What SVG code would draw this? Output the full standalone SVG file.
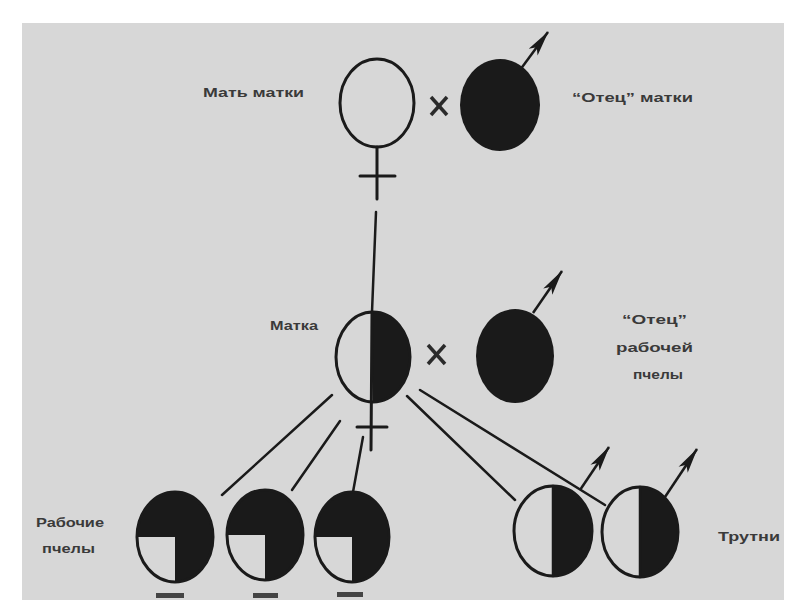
<svg xmlns="http://www.w3.org/2000/svg" width="800" height="600" viewBox="0 0 800 600">
<defs>
<style>
.lbl{font-family:"Liberation Sans",Arial,sans-serif;font-weight:bold;font-size:13px;fill:#3a3a3a}
.ol{fill:none;stroke:#1a1a1a;stroke-width:3}
.blk{fill:#1a1a1a}
.ln{stroke:#1a1a1a;stroke-width:2.5;fill:none;stroke-linecap:round}
.x{stroke:#2a2a2a;stroke-width:3.5;fill:none}
.arr{stroke:#1a1a1a;stroke-width:2.5;fill:none;marker-end:url(#head)}
</style>
<marker id="head" viewBox="-26 -6 28 12" markerWidth="28" markerHeight="12" refX="0" refY="0" orient="auto" markerUnits="userSpaceOnUse">
<path d="M1,0 L-25,-5.5 L-19,0 L-25,5.5 Z" fill="#1a1a1a"/>
</marker>
</defs>
<rect x="0" y="0" width="800" height="600" fill="#ffffff"/>
<rect x="22" y="23" width="762" height="577" fill="#d7d7d7"/>

<g id="connectors">
<line class="ln" x1="376" y1="212" x2="372" y2="312"/>
<line class="ln" x1="332" y1="395" x2="222" y2="495"/>
<line class="ln" x1="340" y1="421" x2="292" y2="490"/>
<line class="ln" x1="363" y1="437" x2="353" y2="492"/>
<line class="ln" x1="407" y1="396" x2="515" y2="500"/>
<line class="ln" x1="420" y1="390" x2="605" y2="505"/>
</g>

<g id="mother-of-queen">
<ellipse class="ol" cx="377" cy="103" rx="37" ry="44"/>
<line class="ln" x1="377" y1="147" x2="377" y2="199" style="stroke-width:3"/>
<line class="ln" x1="360" y1="176" x2="395" y2="176" style="stroke-width:3"/>
<text class="lbl" x="203" y="97" textLength="101" lengthAdjust="spacingAndGlyphs">Мать матки</text>
</g>

<g id="cross1">
<line class="x" x1="431" y1="97" x2="447" y2="115"/>
<line class="x" x1="447" y1="97" x2="431" y2="115"/>
</g>

<g id="father-of-queen">
<ellipse class="blk" cx="500" cy="105" rx="40" ry="46"/>
<line class="arr" x1="520" y1="70" x2="548" y2="32"/>
<text class="lbl" x="572" y="102" textLength="121" lengthAdjust="spacingAndGlyphs">“Отец” матки</text>
</g>

<g id="queen">
<path class="blk" d="M373,312 A37,45 0 0 1 373,402 Z"/>
<ellipse class="ol" cx="373" cy="357" rx="37" ry="45"/>
<line class="ln" x1="372" y1="312" x2="371" y2="450" style="stroke-width:3"/>
<line class="ln" x1="357" y1="427" x2="387" y2="427" style="stroke-width:3"/>
<text class="lbl" x="270" y="330" textLength="48" lengthAdjust="spacingAndGlyphs">Матка</text>
</g>

<g id="cross2">
<line class="x" x1="428" y1="345" x2="445" y2="364"/>
<line class="x" x1="445" y1="345" x2="428" y2="364"/>
</g>

<g id="father-of-worker">
<ellipse class="blk" cx="515" cy="356" rx="39" ry="47"/>
<line class="arr" x1="533" y1="313" x2="562" y2="271"/>
<text class="lbl" x="622" y="324" textLength="65" lengthAdjust="spacingAndGlyphs">“Отец”</text>
<text class="lbl" x="616" y="352" textLength="77" lengthAdjust="spacingAndGlyphs">рабочей</text>
<text class="lbl" x="633" y="379" textLength="50" lengthAdjust="spacingAndGlyphs">пчелы</text>
</g>

<g id="worker1">
<ellipse class="blk" cx="175" cy="537" rx="38" ry="45"/>
<path d="M175,537 L137,537 A38,45 0 0 0 175,582 Z" fill="#d7d7d7"/>
<ellipse class="ol" cx="175" cy="537" rx="38" ry="45"/>
<rect x="156" y="593" width="28" height="5" fill="#444"/>
</g>
<g id="worker2">
<ellipse class="blk" cx="265" cy="535" rx="38" ry="45"/>
<path d="M265,535 L227,535 A38,45 0 0 0 265,580 Z" fill="#d7d7d7"/>
<ellipse class="ol" cx="265" cy="535" rx="38" ry="45"/>
<rect x="253" y="593" width="25" height="5" fill="#444"/>
</g>
<g id="worker3">
<ellipse class="blk" cx="352" cy="537" rx="37" ry="45"/>
<path d="M352,537 L315,537 A37,45 0 0 0 352,582 Z" fill="#d7d7d7"/>
<ellipse class="ol" cx="352" cy="537" rx="37" ry="45"/>
<rect x="337" y="592" width="26" height="5" fill="#444"/>
</g>
<g id="workers-label">
<text class="lbl" x="36" y="527" textLength="68" lengthAdjust="spacingAndGlyphs">Рабочие</text>
<text class="lbl" x="42" y="553" textLength="53" lengthAdjust="spacingAndGlyphs">пчелы</text>
</g>

<g id="drone1">
<path class="blk" d="M553,486 A39,45 0 0 1 553,576 Z"/>
<ellipse class="ol" cx="553" cy="531" rx="39" ry="45"/>
<line class="ln" x1="553" y1="486" x2="553" y2="576"/>
<line class="arr" x1="580" y1="490" x2="609" y2="447"/>
</g>
<g id="drone2">
<path class="blk" d="M640,487 A38,45 0 0 1 640,577 Z"/>
<ellipse class="ol" cx="640" cy="532" rx="38" ry="45"/>
<line class="ln" x1="640" y1="487" x2="640" y2="577"/>
<line class="arr" x1="665" y1="497" x2="697" y2="449"/>
</g>
<text class="lbl" x="718" y="541" textLength="62" lengthAdjust="spacingAndGlyphs">Трутни</text>
</svg>
